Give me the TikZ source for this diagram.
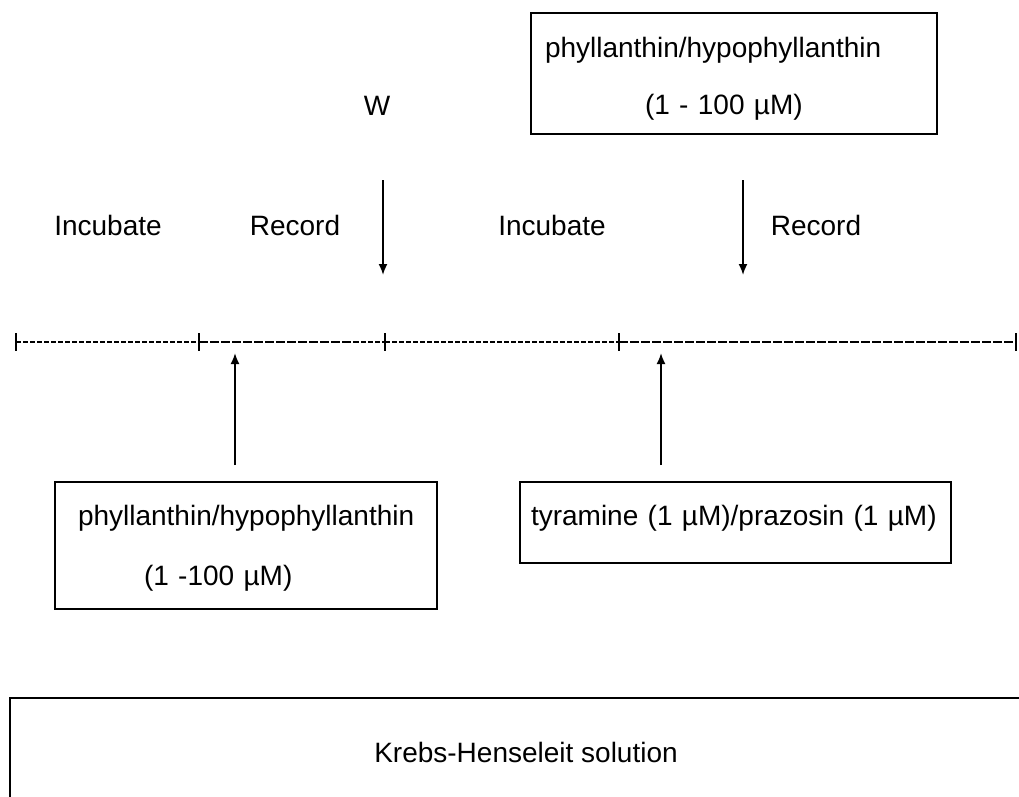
\documentclass[tikz,border=0pt]{standalone}
\usepackage{fontspec}
\setmainfont{Liberation Sans}
\usetikzlibrary{arrows.meta}

\begin{document}
\begin{tikzpicture}[x=1pt,y=-1pt,->,>={Latex[length=11pt,width=9pt]},line width=1.8pt,
   font=\fontsize{28}{34}\selectfont,
   box/.style={draw,align=left,inner ysep=0pt},
   lbl/.style={anchor=base},
   tick/.style={-,line width=1.4pt},
   shortdash/.style={-,line width=2pt,dash pattern=on 4.5pt off 2.5pt},
   longdash/.style={-,line width=2pt,dash pattern=on 9pt off 2pt}]
   \useasboundingbox (0,0) rectangle (1019,796);
   \clip (0,0) rectangle (1019,796);

   % boxes
   \node[box,text width=378pt,inner xsep=14pt,minimum height=121pt,font=\fontsize{28}{57}\selectfont]
      (topdrug) at (734,73.5) {\rule{0pt}{30pt}phyllanthin/hypophyllanthin\\\hspace*{100pt}(1 - 100 µM)};
   \node[box,text width=336pt,inner xsep=23pt,minimum height=127pt,font=\fontsize{28}{60}\selectfont]
      (lbox) at (246,545.5) {\rule{0pt}{25pt}phyllanthin/hypophyllanthin\\\hspace*{66pt}(1 -100 µM)};
   \node[box,text width=409pt,inner xsep=11pt,minimum height=81pt]
      (rbox) at (735.5,522.5) {\rule[-15pt]{0pt}{15pt}tyramine (1 µM)/prazosin (1 µM)};
   \draw[-] (10,698) rectangle (1040,830);
   \node[lbl] (khs) at (526,762) {Krebs-Henseleit solution};

   % labels
   \node[lbl] (w) at (377,115) {W};
   \node[lbl] (inc1) at (108,235) {Incubate};
   \node[lbl] (rec1) at (295,235) {Record};
   \node[lbl] (inc2) at (552,235) {Incubate};
   \node[lbl] (rec2) at (816,235) {Record};

   % time line
   \coordinate (t0) at (16,342);
   \coordinate (t1) at (199,342);
   \coordinate (t2) at (385,342);
   \coordinate (t3) at (619,342);
   \coordinate (t4) at (1016,342);
   \coordinate (tb) at (354,342);
   \foreach \t in {t0,t1,t2,t3,t4}
      \draw[tick] (\t) ++(0,-9) -- ++(0,18);
   \draw[shortdash] (t0) -- (t1);
   \draw[longdash] (t1) -- (tb);
   \draw[shortdash] (tb) -- (t2);
   \draw[shortdash] (t2) -- (t3);
   \draw[longdash] (t3) -- (t4);

   % arrows
   \coordinate (d1s) at (383,180);
   \coordinate (d1e) at (383,275);
   \coordinate (d2s) at (743,180);
   \coordinate (d2e) at (743,275);
   \coordinate (u1s) at (235,465);
   \coordinate (u1e) at (235,353);
   \coordinate (u2s) at (661,465);
   \coordinate (u2e) at (661,353);
   \draw (d1s) -- (d1e);
   \draw (d2s) -- (d2e);
   \draw (u1s) -- (u1e);
   \draw (u2s) -- (u2e);
\end{tikzpicture}
\end{document}
